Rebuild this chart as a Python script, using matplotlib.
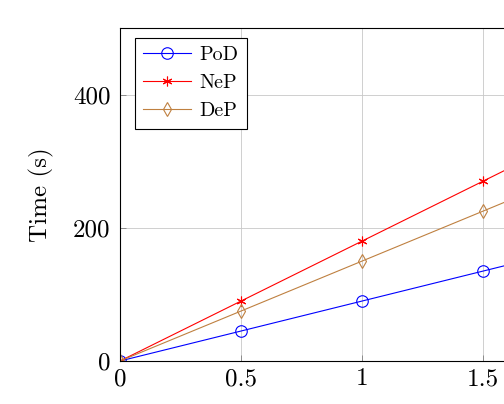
import matplotlib
matplotlib.use("Agg")
import matplotlib.pyplot as plt
from matplotlib.ticker import FuncFormatter, MultipleLocator

x = [0, 0.5, 1, 1.5, 2]
pod = [0, 45, 90, 135, 180]
nep = [0, 90, 180, 270, 360]
dep = [0, 75, 150, 225, 300]
labels = ["PoD", "NeP", "DeP"]

plt.rcParams['font.family'] = 'serif'
plt.rcParams['font.serif'] = ['cmr10', 'DejaVu Serif']
plt.rcParams['mathtext.fontset'] = 'cm'
plt.rcParams['axes.unicode_minus'] = False

W, H = 504, 404
fig = plt.figure(figsize=(W / 100, H / 100), dpi=100)
xmax = 3.0
left, bottom, top = 120, 361, 28
axw = 242 * xmax
ax = fig.add_axes([left / W, (H - bottom) / H, axw / W, (bottom - top) / H])

ax.plot(x, pod, color='blue', lw=0.8, marker='o', ms=8.3, mfc='none', mec='blue', mew=0.8, label=labels[0])
ax.plot(x, nep, color='red', lw=0.8, marker=(6, 2, 0), ms=7, mec='red', mew=0.8, label=labels[1])
ax.plot(x, dep, color='#bf8040', lw=0.8, marker='d', ms=7.5, mfc='none', mec='#bf8040', mew=0.8, label=labels[2])

ax.set_xlim(0, xmax)
ax.set_ylim(0, 500)
ax.xaxis.set_major_locator(MultipleLocator(0.5))
ax.yaxis.set_major_locator(MultipleLocator(200))
fmt = FuncFormatter(lambda v, p: '%g' % v)
ax.xaxis.set_major_formatter(fmt)
ax.yaxis.set_major_formatter(fmt)
ax.grid(True, color='#c8c8c8', lw=0.6)
ax.set_axisbelow(True)
ax.tick_params(direction='in', length=4, width=0.6, color='#808080', labelsize=18)
ax.tick_params(axis='y', pad=7)
ax.tick_params(axis='x', pad=5)
for s in ax.spines.values():
    s.set_linewidth(0.8)
    s.set_color('black')
ax.set_ylabel('Time (s)', fontsize=18)
ax.yaxis.set_label_coords(-66 / axw, 0.5)

leg = ax.legend(loc='upper left', bbox_to_anchor=(15 / axw, 1 - 10 / 333), fontsize=14.5,
                frameon=True, fancybox=False, edgecolor='black', framealpha=1,
                handlelength=2.4, borderpad=0.4, labelspacing=0.5, handletextpad=0.4, borderaxespad=0)
leg.get_frame().set_linewidth(0.8)

fig.savefig('out.png', dpi=100)
